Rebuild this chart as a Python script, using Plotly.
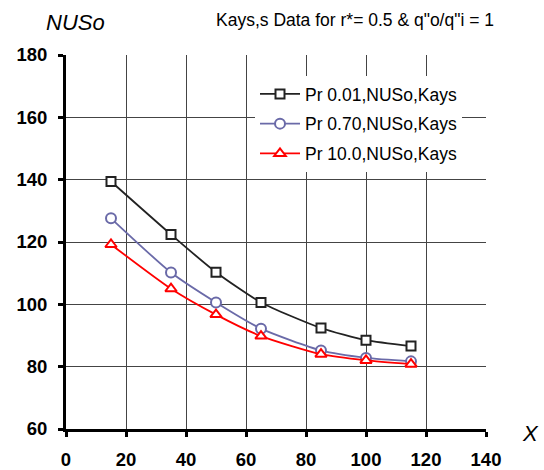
import plotly.graph_objects as go

x_vals = [15, 35, 50, 65, 85, 100, 115]
pr001 = [139.4, 122.4, 110.3, 100.6, 92.4, 88.5, 86.6]
pr070 = [127.6, 110.2, 100.6, 92.2, 85.2, 82.8, 81.7]
pr100 = [119.2, 105.0, 96.7, 89.8, 84.0, 82.0, 80.8]
names = ["Pr 0.01,NUSo,Kays", "Pr 0.70,NUSo,Kays", "Pr 10.0,NUSo,Kays"]
x_ticks = [0, 20, 40, 60, 80, 100, 120, 140]
y_ticks = [60, 80, 100, 120, 140, 160, 180]

FONT = "Liberation Sans, Arial, sans-serif"

L, R, T, B = 66, 58, 55, 41
W, H = 544, 470
pw = W - L - R
ph = H - T - B


def px(xp):
    return (xp - L) / pw


def py(yp):
    return (H - B - yp) / ph


fig = go.Figure()
styles = [
    (pr001, "#222222", "square", 9),
    (pr070, "#6a6aa8", "circle", 10),
    (pr100, "#ff0000", "triangle-up", 10),
]
for i, (ys, col, sym, sz) in enumerate(styles):
    fig.add_trace(go.Scatter(
        x=x_vals, y=ys, name=names[i], mode="lines+markers",
        legendgroup=f"g{i}",
        line=dict(color=col, width=1.8, shape="spline", smoothing=0.6),
        marker=dict(symbol=sym, size=sz, color="white",
                    line=dict(color=col, width=2)),
    ))

axis_common = dict(
    showgrid=True, gridcolor="#444444", gridwidth=1,
    showline=True, linecolor="black", linewidth=3,
    ticks="outside", ticklen=5, tickwidth=3, tickcolor="black",
    tickfont=dict(size=18.5, family=FONT, color="black"),
    zeroline=False, fixedrange=True, automargin=False,
)

fig.update_layout(
    width=W, height=H,
    margin=dict(l=L, r=R, t=T, b=B),
    paper_bgcolor="white", plot_bgcolor="white",
    font=dict(family=FONT, color="black"),
    showlegend=True,
    legend=dict(
        x=px(255), y=py(76), xanchor="left", yanchor="top",
        bgcolor="white", borderwidth=0,
        font=dict(size=17.5, family=FONT, color="black"),
        tracegroupgap=4, itemwidth=40,
    ),
    xaxis=dict(range=[0, 140], tickvals=x_ticks,
               ticktext=[f"<b>{v}</b>" for v in x_ticks], ticklabelstandoff=7,
               **axis_common),
    yaxis=dict(range=[60, 180], tickvals=y_ticks,
               ticktext=[f"<b>{v}</b>" for v in y_ticks], ticklabelstandoff=7,
               **axis_common),
    annotations=[
        dict(text="Kays,s Data for r*= 0.5 &amp; q\"o/q\"i = 1",
             xref="paper", yref="paper", x=px(355), y=py(20),
             xanchor="center", yanchor="middle", showarrow=False,
             font=dict(size=17.5, family=FONT, color="black")),
        dict(text="<i>NUSo</i>", xref="paper", yref="paper",
             x=px(75), y=py(22), xanchor="center", yanchor="middle",
             showarrow=False, font=dict(size=22, family=FONT, color="black")),
        dict(text="<i>X</i>", xref="paper", yref="paper",
             x=px(530), y=py(433), xanchor="center", yanchor="middle",
             showarrow=False, font=dict(size=22, family=FONT, color="black")),
    ],
)

fig.write_html(
    "out.html",
    config={"displayModeBar": False},
    post_script="document.body.style.margin='0';document.body.style.padding='0';",
)
